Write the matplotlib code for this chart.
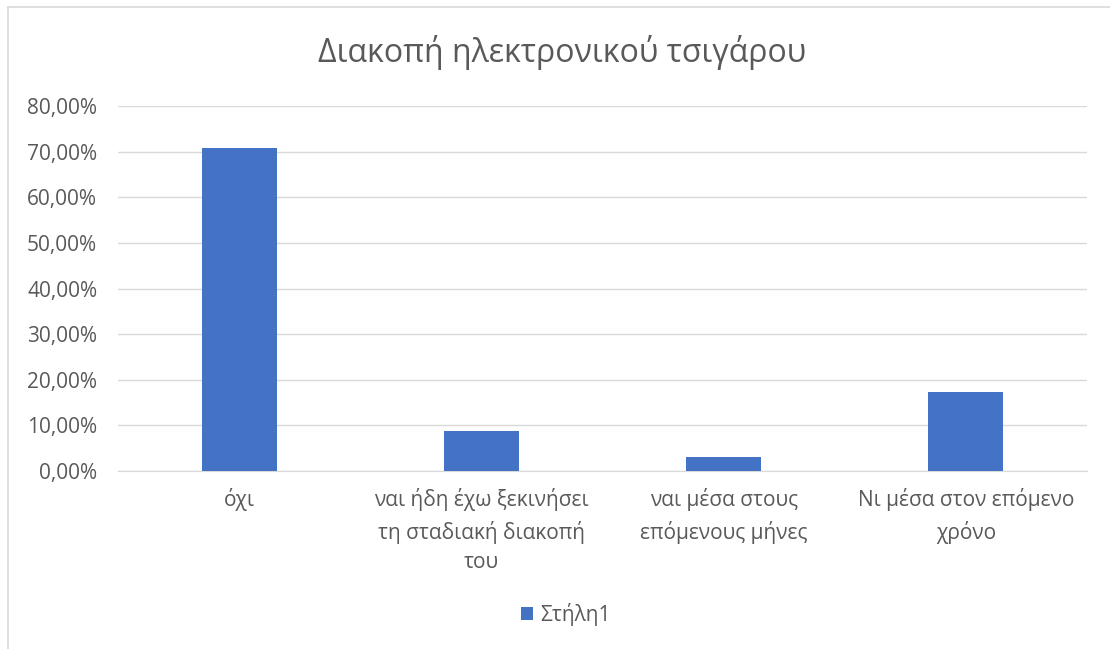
import matplotlib
matplotlib.use("Agg")
import matplotlib.pyplot as plt
from matplotlib.lines import Line2D
from matplotlib.ticker import FuncFormatter, MultipleLocator

# Data
categories = [
    "όχι",
    "ναι ήδη έχω ξεκινήσει\nτη σταδιακή διακοπή\nτου",
    "ναι μέσα στους\nεπόμενους μήνες",
    "Νι μέσα στον επόμενο\nχρόνο",
]
values = [70.7, 8.8, 3.0, 17.3]
series_name = "Στήλη1"
title = "Διακοπή ηλεκτρονικού τσιγάρου"

BAR = "#4472C4"
TEXT = "#595959"
GRID = "#D9D9D9"
FONT = ["Open Sans", "Noto Sans", "DejaVu Sans"]

plt.rcParams["font.family"] = FONT

W, H = 1110, 649
fig = plt.figure(figsize=(W / 100, H / 100), dpi=100)

# Plot area in pixel coordinates
left, right, top, bottom = 118, 1087, 106, 471
ax = fig.add_axes([left / W, 1 - bottom / H, (right - left) / W, (bottom - top) / H])

x = range(len(categories))
ax.bar(x, values, width=0.31, color=BAR, zorder=3, label=series_name)

ax.set_xlim(-0.5, len(categories) - 0.5)
ax.set_ylim(0, 80)
ax.yaxis.set_major_locator(MultipleLocator(10))
ax.yaxis.set_major_formatter(FuncFormatter(lambda v, p: f"{v:.2f}%".replace(".", ",")))
ax.grid(axis="y", color=GRID, linewidth=1, zorder=0)

for s in ["top", "right", "left"]:
    ax.spines[s].set_visible(False)
ax.spines["bottom"].set_color(GRID)
ax.tick_params(axis="both", length=0, colors=TEXT, labelsize=15)
ax.tick_params(axis="y", pad=15)
ax.tick_params(axis="x", pad=12)
ax.set_xticks(list(x))
ax.set_xticklabels(categories, linespacing=1.55, color=TEXT)

fig.text(562 / W, 1 - 52 / H, title, ha="center", va="center", fontsize=23, color=TEXT)

leg = fig.legend(loc="center", bbox_to_anchor=(566 / W, 1 - 614 / H), frameon=False,
                 fontsize=15, handlelength=0.6, handleheight=0.6, handletextpad=0.35,
                 labelcolor=TEXT)

# Chart frame
fig.add_artist(Line2D([8 / W, 8 / W], [0, 1 - 7 / H], color=GRID, linewidth=1.2, transform=fig.transFigure))
fig.add_artist(Line2D([8 / W, 1], [1 - 7 / H, 1 - 7 / H], color=GRID, linewidth=1.2, transform=fig.transFigure))

fig.savefig("out.png", dpi=100)
